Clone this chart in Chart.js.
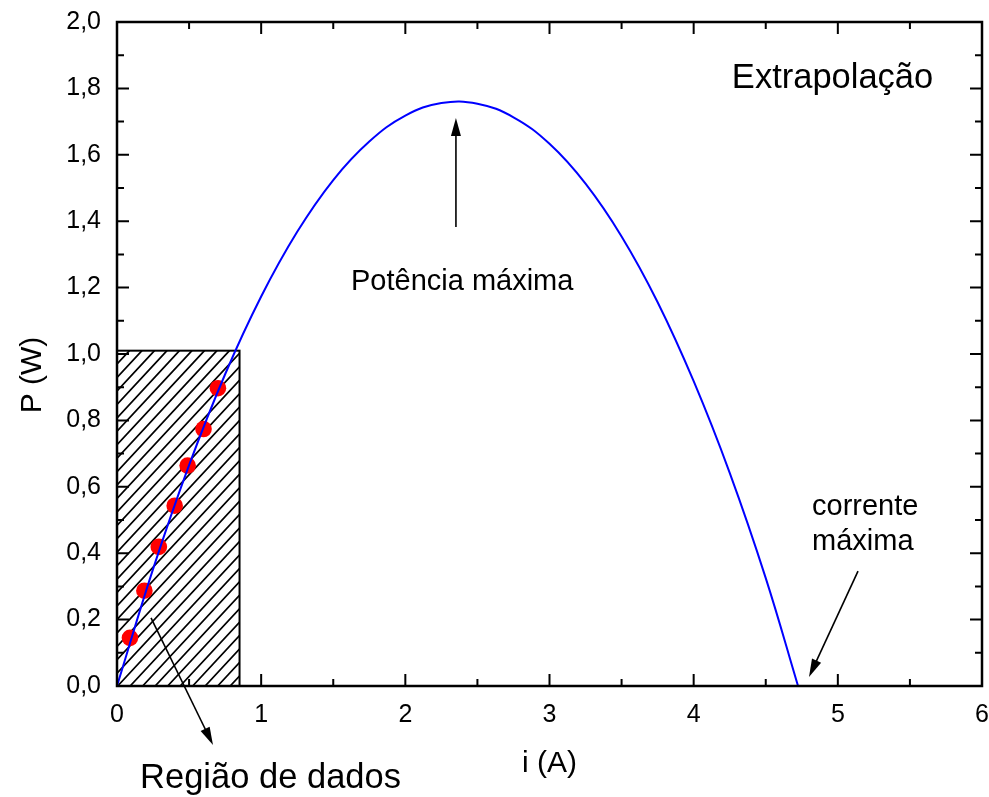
<!DOCTYPE html>
<html>
<head>
<meta charset="utf-8">
<script src="https://cdn.jsdelivr.net/npm/chart.js@4"></script>
<style>
  html, body { margin: 0; padding: 0; background: #ffffff; }
  #wrap { width: 989px; height: 797px; }
</style>
</head>
<body>
<div id="wrap"><canvas id="chart" width="989" height="797"></canvas></div>
<script>
// Measured points: current (A) and power (W)
const currentMeasured = [0.09, 0.19, 0.29, 0.40, 0.49, 0.60, 0.70];
const powerMeasured   = [0.145, 0.287, 0.419, 0.543, 0.664, 0.774, 0.897];

// Fitted power curve P(i), extended beyond the measured region
const currentFit = [0, 0.25, 0.5, 0.75, 1.0, 1.25, 1.5, 1.75, 2.0, 2.25, 2.5, 2.75,
                    3.0, 3.25, 3.5, 3.75, 4.0, 4.25, 4.5, 4.724];
const powerFit   = [0, 0.352, 0.665, 0.939, 1.173, 1.368, 1.524, 1.640, 1.718, 1.756, 1.754, 1.713,
                    1.633, 1.513, 1.354, 1.156, 0.918, 0.642, 0.325, 0];

// Axis ticks
const xTickValues = [0, 1, 2, 3, 4, 5, 6];
const yTickValues = [0, 0.2, 0.4, 0.6, 0.8, 1.0, 1.2, 1.4, 1.6, 1.8, 2.0];

// Extent of the data region (hatched box)
const regionCurrent = [0, 0.85];
const regionPower   = [0, 1.01];

// Text notes and arrows, anchored in data units
const notes = [
  { text: 'Extrapolação',    x: 4.265, y: 1.801,  size: 34.5 },
  { text: 'Potência máxima', x: 1.623, y: 1.193,  size: 29 },
  { text: 'corrente',        x: 4.821, y: 0.515,  size: 29 },
  { text: 'máxima',          x: 4.821, y: 0.410,  size: 29 },
  { text: 'Região de dados', x: 0.160, y: -0.307, size: 34.5 }
];
const arrows = [
  { from: [2.351, 1.3825], to: [2.351, 1.711] },
  { from: [5.140, 0.346],  to: [4.800, 0.027] },
  { from: [0.236, 0.205],  to: [0.666, -0.178] }
];

const FONT = "'Liberation Sans', Arial, Helvetica, sans-serif";

function drawArrow(ctx, x1, y1, x2, y2) {
  const headLen = 18, headHalf = 5;
  const a = Math.atan2(y2 - y1, x2 - x1);
  const c = Math.cos(a), s = Math.sin(a);
  ctx.beginPath();
  ctx.moveTo(x1, y1);
  ctx.lineTo(x2 - c * headLen * 0.7, y2 - s * headLen * 0.7);
  ctx.stroke();
  ctx.beginPath();
  ctx.moveTo(x2, y2);
  ctx.lineTo(x2 - c * headLen + s * headHalf, y2 - s * headLen - c * headHalf);
  ctx.lineTo(x2 - c * headLen - s * headHalf, y2 - s * headLen + c * headHalf);
  ctx.closePath();
  ctx.fill();
}

// Keep the plot box fixed: no extra room reserved for end labels
function fixBox(size, key) {
  return s => {
    s[key] = size;
    s.paddingLeft = s.paddingRight = s.paddingTop = s.paddingBottom = 0;
  };
}

// Hatched rectangle marking the data region
const hatchRegion = {
  id: 'hatchRegion',
  beforeDatasetsDraw(chart) {
    const { ctx, scales: { x, y } } = chart;
    const left = x.getPixelForValue(regionCurrent[0]);
    const right = x.getPixelForValue(regionCurrent[1]);
    const top = y.getPixelForValue(regionPower[1]);
    const bottom = y.getPixelForValue(regionPower[0]);
    ctx.save();
    ctx.beginPath();
    ctx.rect(left, top, right - left, bottom - top);
    ctx.clip();
    ctx.strokeStyle = '#000';
    ctx.lineWidth = 1.7;
    const step = 12.5;
    const h = bottom - top;
    const run = h * 0.93;
    ctx.beginPath();
    for (let d = left - run; d < right + step; d += step) {
      ctx.moveTo(d, bottom);
      ctx.lineTo(d + run, top);
    }
    ctx.stroke();
    ctx.restore();
    ctx.save();
    ctx.strokeStyle = '#000';
    ctx.lineWidth = 2;
    ctx.strokeRect(left, top, right - left, bottom - top);
    ctx.restore();
  }
};

// Box frame with inward ticks on all four sides
const frameTicks = {
  id: 'frameTicks',
  afterDatasetsDraw(chart) {
    const { ctx, chartArea: a, scales: { x, y } } = chart;
    ctx.save();
    ctx.strokeStyle = '#000';
    ctx.lineWidth = 2;
    ctx.beginPath();
    for (let v = 0; v <= 6.0001; v += 0.5) {
      const px = x.getPixelForValue(v);
      const len = Math.abs(v - Math.round(v)) < 1e-6 ? 12 : 7;
      ctx.moveTo(px, a.bottom); ctx.lineTo(px, a.bottom - len);
      ctx.moveTo(px, a.top);    ctx.lineTo(px, a.top + len);
    }
    for (let k = 0; k <= 20; k++) {
      const py = y.getPixelForValue(k / 10);
      const len = k % 2 === 0 ? 12 : 7;
      ctx.moveTo(a.left, py);  ctx.lineTo(a.left + len, py);
      ctx.moveTo(a.right, py); ctx.lineTo(a.right - len, py);
    }
    ctx.stroke();
    ctx.lineWidth = 2.5;
    ctx.strokeRect(a.left, a.top, a.right - a.left, a.bottom - a.top);
    ctx.restore();
  }
};

// Notes, arrows and the vertical axis title
const notesLayer = {
  id: 'notesLayer',
  afterDraw(chart) {
    const { ctx, chartArea: a, scales: { x, y } } = chart;
    ctx.save();
    ctx.fillStyle = '#000';
    ctx.strokeStyle = '#000';
    ctx.textAlign = 'left';
    ctx.textBaseline = 'alphabetic';
    notes.forEach(n => {
      ctx.font = n.size + 'px ' + FONT;
      ctx.fillText(n.text, x.getPixelForValue(n.x), y.getPixelForValue(n.y));
    });
    ctx.lineWidth = 1.6;
    arrows.forEach(r => {
      drawArrow(ctx,
        x.getPixelForValue(r.from[0]), y.getPixelForValue(r.from[1]),
        x.getPixelForValue(r.to[0]), y.getPixelForValue(r.to[1]));
    });
    // vertical axis title
    ctx.translate(41, (a.top + a.bottom) / 2 + 21);
    ctx.rotate(-Math.PI / 2);
    ctx.textAlign = 'center';
    ctx.font = '30px ' + FONT;
    ctx.fillText('P (W)', 0, 0);
    ctx.restore();
  }
};

const ctx = document.getElementById('chart').getContext('2d');
new Chart(ctx, {
  type: 'scatter',
  data: {
    datasets: [
      {
        label: 'ajuste',
        data: currentFit.map((v, i) => ({ x: v, y: powerFit[i] })),
        showLine: true,
        borderColor: '#0000ff',
        borderWidth: 2,
        pointRadius: 0,
        pointHoverRadius: 0,
        tension: 0.4,
        fill: false,
        order: 0
      },
      {
        label: 'dados',
        data: currentMeasured.map((v, i) => ({ x: v, y: powerMeasured[i] })),
        showLine: false,
        backgroundColor: '#ff0000',
        borderWidth: 0,
        pointRadius: 8.3,
        pointHoverRadius: 8.3,
        order: 1
      }
    ]
  },
  options: {
    responsive: false,
    animation: false,
    devicePixelRatio: 1,
    layout: { autoPadding: false, padding: { top: 22, right: 7, left: 0, bottom: 0 } },
    plugins: { legend: { display: false }, tooltip: { enabled: false } },
    events: [],
    scales: {
      x: {
        type: 'linear',
        position: 'bottom',
        min: 0,
        max: 6,
        afterBuildTicks: s => { s.ticks = xTickValues.map(v => ({ value: v })); },
        afterFit: fixBox(111, 'height'),
        grid: { display: false, drawTicks: false },
        border: { display: false },
        ticks: {
          color: '#000',
          padding: 14,
          font: { family: FONT, size: 25 },
          callback: v => String(v)
        },
        title: {
          display: true,
          text: 'i (A)',
          color: '#000',
          font: { family: FONT, size: 30 },
          padding: { top: 0, bottom: 15 }
        }
      },
      y: {
        type: 'linear',
        position: 'left',
        min: 0,
        max: 2,
        afterBuildTicks: s => { s.ticks = yTickValues.map(v => ({ value: v })); },
        afterFit: fixBox(117, 'width'),
        grid: { display: false, drawTicks: false },
        border: { display: false },
        ticks: {
          color: '#000',
          padding: 16,
          font: { family: FONT, size: 25 },
          callback: v => v.toFixed(1).replace('.', ',')
        }
      }
    }
  },
  plugins: [hatchRegion, frameTicks, notesLayer]
});
</script>
</body>
</html>
